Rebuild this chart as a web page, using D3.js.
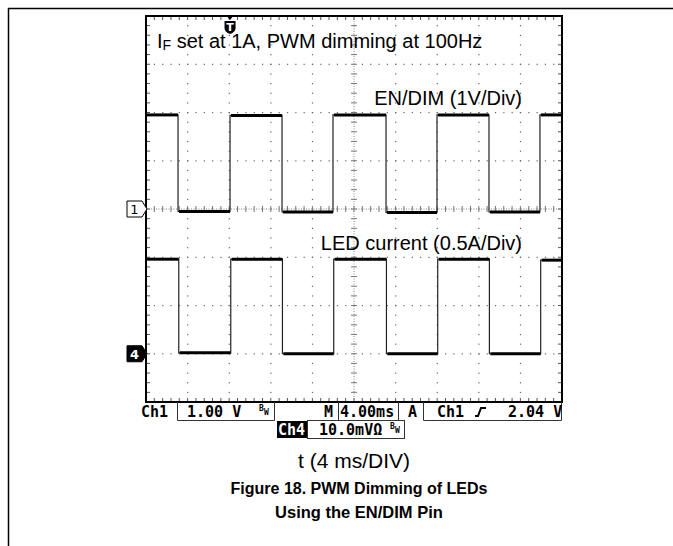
<!DOCTYPE html>
<html>
<head>
<meta charset="utf-8">
<script src="https://cdn.jsdelivr.net/npm/d3@7"></script>
<style>
  body { margin: 0; background: #fff; }
  svg { display: block; }
</style>
</head>
<body>
<div id="scope"></div>
<script>
// waveform data (time in ms, 4 ms/div)
const enDimTimes = [0, 3.08, 8.08, 13.08, 17.98, 23.08, 27.98, 32.98, 37.88, 40];
const enDimVolts = [1.95, -0.05, 1.94, -0.06, 1.95, -0.07, 1.95, -0.06, 1.95];
const ledTimes = [0, 3.15, 8.15, 13.12, 18.05, 23.12, 28.05, 33.02, 37.95, 40];
const ledAmps = [0.98, 0.01, 0.98, 0.0, 0.98, 0.0, 0.98, 0.0, 0.97];

const triggerTime = 8.08;
const notes = ["set at 1A, PWM dimming at 100Hz", "EN/DIM (1V/Div)", "LED current (0.5A/Div)"];
const captionLines = ["t (4 ms/DIV)", "Figure 18. PWM Dimming of LEDs", "Using the EN/DIM Pin"];

const W = 673, H = 546;
const frame = {left: 146, right: 562, top: 16, bottom: 402};

const svg = d3.select("#scope")
  .append("svg")
    .attr("width", W)
    .attr("height", H);

svg.append("rect").attr("width", W).attr("height", H).attr("fill", "#fff");

// page rules
svg.append("line").attr("x1", 8).attr("x2", W).attr("y1", 8.5).attr("y2", 8.5)
  .attr("stroke", "#000").attr("stroke-width", 1.5);
svg.append("line").attr("x1", 8.5).attr("x2", 8.5).attr("y1", 8).attr("y2", H)
  .attr("stroke", "#000").attr("stroke-width", 1.5);

// scales
const x = d3.scaleLinear().domain([0, 40]).range([frame.left, frame.right]);
const yDiv = d3.scaleLinear().domain([0, 8]).range([frame.bottom, frame.top]);
const y1 = d3.scaleLinear().domain([-4, 4]).range([frame.bottom, frame.top]);    // 1 V/div
const y4 = d3.scaleLinear().domain([-0.5, 3.5]).range([frame.bottom, frame.top]); // 0.5 A/div

const minorT = d3.range(0, 40.001, 0.8);
const minorD = d3.range(0, 8.001, 0.2);
const majorT = d3.range(4, 37, 4);
const majorD = d3.range(1, 8, 1);

const grid = svg.append("g").attr("fill", "#666");

// dotted graticule
majorT.filter(t => t !== 20).forEach(t => {
  grid.selectAll(null).data(minorD).join("rect")
    .attr("x", x(t) - 0.5).attr("y", d => yDiv(d) - 0.5)
    .attr("width", 1.2).attr("height", 1.2);
});
majorD.filter(d => d !== 4).forEach(d => {
  grid.selectAll(null).data(minorT).join("rect")
    .attr("x", t => x(t) - 0.5).attr("y", yDiv(d) - 0.5)
    .attr("width", 1.2).attr("height", 1.2);
});

// centre cross with ticks
svg.append("line").attr("x1", frame.left).attr("x2", frame.right)
  .attr("y1", yDiv(4)).attr("y2", yDiv(4))
  .attr("stroke", "#888").attr("stroke-width", 1).attr("stroke-dasharray", "1,1.5");
svg.append("line").attr("x1", x(20)).attr("x2", x(20))
  .attr("y1", frame.top).attr("y2", frame.bottom)
  .attr("stroke", "#888").attr("stroke-width", 1).attr("stroke-dasharray", "1,1.5");
svg.append("g").selectAll("line").data(minorT).join("line")
  .attr("x1", t => x(t)).attr("x2", t => x(t))
  .attr("y1", yDiv(4) - 3).attr("y2", yDiv(4) + 3)
  .attr("stroke", "#777").attr("stroke-width", 1);
svg.append("g").selectAll("line").data(minorD).join("line")
  .attr("x1", x(20) - 3).attr("x2", x(20) + 3)
  .attr("y1", d => yDiv(d)).attr("y2", d => yDiv(d))
  .attr("stroke", "#777").attr("stroke-width", 1);

// border ticks
const ticks = svg.append("g").attr("stroke", "#555").attr("stroke-width", 1);
ticks.selectAll(null).data(minorT).join("line")
  .attr("x1", t => x(t)).attr("x2", t => x(t))
  .attr("y1", frame.top).attr("y2", frame.top + 4);
ticks.selectAll(null).data(minorT).join("line")
  .attr("x1", t => x(t)).attr("x2", t => x(t))
  .attr("y1", frame.bottom).attr("y2", frame.bottom - 4);
ticks.selectAll(null).data(minorD).join("line")
  .attr("x1", frame.left).attr("x2", frame.left + 4)
  .attr("y1", d => yDiv(d)).attr("y2", d => yDiv(d));
ticks.selectAll(null).data(minorD).join("line")
  .attr("x1", frame.right).attr("x2", frame.right - 4)
  .attr("y1", d => yDiv(d)).attr("y2", d => yDiv(d));

// traces: thin edges, thick noisy-looking levels
function drawTrace(times, levels, y) {
  const pts = [];
  levels.forEach((v, i) => { pts.push([times[i], v]); pts.push([times[i + 1], v]); });
  svg.append("path")
    .attr("d", d3.line().x(d => x(d[0])).y(d => y(d[1]))(pts))
    .attr("fill", "none").attr("stroke", "#222").attr("stroke-width", 1.2);
  svg.append("g").selectAll("line").data(levels).join("line")
    .attr("x1", (v, i) => x(times[i]) + 1).attr("x2", (v, i) => x(times[i + 1]))
    .attr("y1", v => y(v)).attr("y2", v => y(v))
    .attr("stroke", "#000").attr("stroke-width", 3);
}
drawTrace(enDimTimes, enDimVolts, y1);
drawTrace(ledTimes, ledAmps, y4);

// frame
svg.append("rect")
  .attr("x", frame.left).attr("y", frame.top)
  .attr("width", frame.right - frame.left).attr("height", frame.bottom - frame.top)
  .attr("fill", "none").attr("stroke", "#000").attr("stroke-width", 2);

// trigger marker
const tx = x(triggerTime);
svg.append("path").attr("d", `M${tx - 4},15 L${tx + 4},15 L${tx},20 Z`).attr("fill", "#000");
svg.append("path")
  .attr("d", `M${tx - 5.5},21 H${tx + 5.5} V28 Q${tx + 5.5},32 ${tx},34 Q${tx - 5.5},32 ${tx - 5.5},28 Z`)
  .attr("fill", "#000");
svg.append("text").attr("x", tx).attr("y", 30.5).attr("text-anchor", "middle")
  .attr("font-family", "DejaVu Sans, sans-serif").attr("font-weight", "bold")
  .attr("font-size", 11).attr("fill", "#fff").text("T");

// channel ground markers
function chMarker(yv, label, dark) {
  svg.append("path")
    .attr("d", `M127,${yv - 8} H142 L147,${yv} L142,${yv + 8} H127 Z`)
    .attr("fill", dark ? "#000" : "#fff").attr("stroke", "#000").attr("stroke-width", 1);
  svg.append("text").attr("x", 134.5).attr("y", yv + 5).attr("text-anchor", "middle")
    .attr("font-family", "DejaVu Sans, sans-serif").attr("font-weight", dark ? "bold" : "normal")
    .attr("font-size", 13).attr("fill", dark ? "#fff" : "#000").text(label);
}
chMarker(y1(0), "1", false);
chMarker(y4(0), "4", true);

// annotations
const ann = svg.append("g")
  .attr("font-family", "Liberation Sans, Arial, sans-serif").attr("font-size", 20).attr("fill", "#000");
const t0 = ann.append("text").attr("x", 157).attr("y", 48);
t0.append("tspan").text("I");
t0.append("tspan").attr("font-size", 14).attr("dy", 2).text("F");
t0.append("tspan").attr("dy", -2).text(" " + notes[0]);
ann.append("text").attr("x", 522).attr("y", 105).attr("text-anchor", "end").text(notes[1]);
ann.append("text").attr("x", 522).attr("y", 250).attr("text-anchor", "end").text(notes[2]);

// status bar
const mono = "DejaVu Sans Mono, monospace";
const boxLine = svg.append("g").attr("stroke", "#333").attr("stroke-width", 1).attr("fill", "none");
svg.append("rect").attr("x", 277).attr("y", 421).attr("width", 30).attr("height", 17).attr("fill", "#000");
const sb = svg.append("g").attr("font-family", mono).attr("font-weight", "bold")
  .attr("font-size", 15).attr("fill", "#000");

sb.append("text").attr("x", 141).attr("y", 417).text("Ch1");
boxLine.append("path").attr("d", "M177.5,402 V420.5 H274.5 V402");
sb.append("text").attr("x", 187).attr("y", 417).text("1.00 V");
sb.append("text").attr("x", 259).attr("y", 411).attr("font-size", 8).text("B");
sb.append("text").attr("x", 264).attr("y", 415).attr("font-size", 8).text("W");

sb.append("text").attr("x", 324).attr("y", 417).text("M");
boxLine.append("path").attr("d", "M338.5,402 V420.5 H398.5 V402");
sb.append("text").attr("x", 340).attr("y", 417).text("4.00ms");

sb.append("text").attr("x", 408).attr("y", 417).text("A");
boxLine.append("path").attr("d", "M423.5,402 V420.5 H561.5 V402");
sb.append("text").attr("x", 437).attr("y", 417).text("Ch1");
svg.append("path").attr("d", "M475,416 H478 L481,408 H486").attr("fill", "none")
  .attr("stroke", "#000").attr("stroke-width", 2);
sb.append("text").attr("x", 508).attr("y", 417).text("2.04 V");

sb.append("text").attr("x", 278).attr("y", 435).attr("fill", "#fff").text("Ch4");
boxLine.append("rect").attr("x", 307.5).attr("y", 420.5).attr("width", 97).attr("height", 18);
sb.append("text").attr("x", 319).attr("y", 435).text("10.0mVΩ");
sb.append("text").attr("x", 390).attr("y", 429).attr("font-size", 8).text("B");
sb.append("text").attr("x", 395).attr("y", 433).attr("font-size", 8).text("W");

// caption
const cap = svg.append("g").attr("font-family", "Liberation Sans, Arial, sans-serif")
  .attr("text-anchor", "middle").attr("fill", "#000");
cap.append("text").attr("x", 354).attr("y", 468).attr("font-size", 21).text(captionLines[0]);
cap.append("text").attr("x", 359).attr("y", 494).attr("font-size", 16).attr("font-weight", "bold").text(captionLines[1]);
cap.append("text").attr("x", 359).attr("y", 518).attr("font-size", 16.5).attr("font-weight", "bold").text(captionLines[2]);
</script>
</body>
</html>
